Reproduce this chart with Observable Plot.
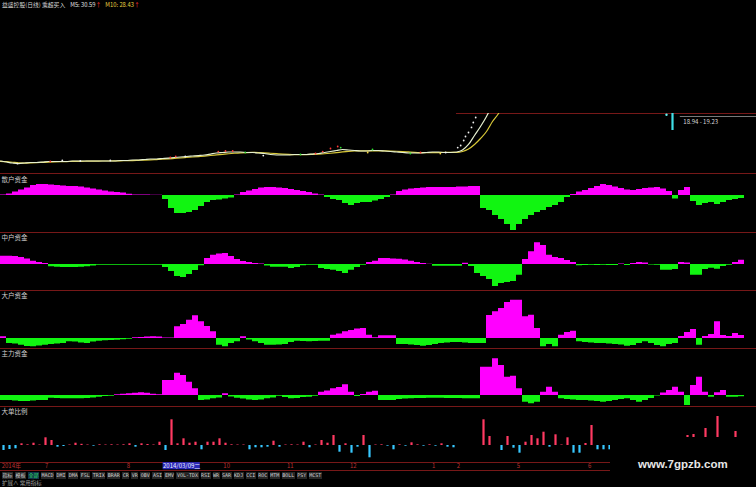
<!DOCTYPE html>
<html><head><meta charset="utf-8">
<script src="https://cdn.jsdelivr.net/npm/d3@7"></script>
<script src="https://cdn.jsdelivr.net/npm/@observablehq/plot@0.6"></script>
<style>
html,body{margin:0;padding:0;background:#000;}
#root{position:relative;width:756px;height:487px;overflow:hidden;background:#000;font-family:"Noto Sans CJK SC","DejaVu Sans",sans-serif;}
#root svg{position:absolute;left:0;background:transparent;}
.title{position:absolute;left:2px;top:0px;font-size:5.8px;line-height:10px;color:#d8d8d8;white-space:nowrap;}
.tabs{position:absolute;left:2px;top:472px;display:flex;gap:2px;font-family:"DejaVu Sans Mono","Noto Sans CJK SC",monospace;font-size:5px;line-height:7px;color:#d0d0d0;white-space:nowrap;}
.tabs span{background:#262626;padding:0 0.5px;}
.tabs span.on{color:#30e060;background:#10304a;}
.ext{position:absolute;left:2px;top:481px;font-size:5.5px;line-height:7px;color:#a0a0a0;white-space:nowrap;}
.wm{position:absolute;left:610px;top:437px;width:146px;height:50px;background:#000;}
.wm div{position:absolute;left:28px;top:21px;font-family:"Liberation Sans",Arial,sans-serif;font-weight:bold;font-size:11.5px;color:#e6e6e6;}
</style></head><body><div id="root"></div>
<script>
// ---------- data ----------
const titleName = "益盛控股(日线) 乘超买入";
const m5Label = "M5: 30.59", m10Label = "M10: 28.43";
const panelLabels = ["散户资金", "中户资金", "大户资金", "主力资金", "大单比例"];

// main panel: moving averages (price), by bar index
const ma5 = [10.28,10.09,9.91,9.81,9.91,10.00,10.00,10.09,10.19,10.19,
  10.19,10.19,10.28,10.28,10.28,10.28,10.28,10.28,10.28,10.28,
  10.38,10.38,10.47,10.47,10.56,10.66,10.66,10.75,10.84,10.94,
  11.03,11.13,11.22,11.31,11.41,11.59,11.78,11.88,11.97,11.97,
  11.97,11.88,11.88,11.78,11.69,11.50,11.41,11.41,11.41,11.50,
  11.50,11.50,11.59,11.69,11.88,12.06,12.25,12.44,12.35,12.25,
  12.16,12.16,12.25,12.25,12.16,12.06,11.97,11.88,11.78,11.78,
  11.78,11.88,11.97,11.97,11.88,11.88,11.97,12.35,13.38,15.07,
  16.75,18.63,20.88,23.13];
const ma10 = [10.2,10.15,10.05,9.95,9.9,9.92,9.96,10.02,10.08,10.13,
  10.16,10.18,10.2,10.22,10.24,10.26,10.27,10.28,10.28,10.29,
  10.32,10.34,10.37,10.41,10.45,10.5,10.56,10.62,10.69,10.77,
  10.85,10.94,11.03,11.12,11.21,11.31,11.42,11.53,11.64,11.74,
  11.82,11.87,11.89,11.87,11.82,11.74,11.66,11.58,11.52,11.48,
  11.47,11.48,11.52,11.57,11.64,11.74,11.86,11.99,12.1,12.17,
  12.2,12.2,12.19,12.18,12.17,12.15,12.11,12.05,11.98,11.91,
  11.86,11.84,11.85,11.87,11.89,11.9,11.88,12.06,12.53,13.38,
  14.50,15.82,17.69,19.19,21.26];
// small candle marks
const candleIdx   = [2.8,8.3,10.3,13.3,18.3,28.3,29.2,30.8,36.3,37.5,38.7,40.8,43.8,50,52.5,53.7,55,56.2,56.7,61.2,62,68.3,70,73.3,74.2,76.2,76.7,77.2,77.5,78,78.5,78.8,79.2];
const candlePrice = [9.81,10.19,10.38,10.28,10.38,10.94,11.13,11.13,12.06,12.16,12.16,11.88,11.31,11.5,11.69,12.06,12.63,13.0,12.81,11.88,12.44,11.69,11.88,11.69,11.88,12.81,13.19,14.13,14.88,15.63,16.57,17.5,18.44];
const candleKind  = ["w","r","w","w","w","r","r","w","r","r","r","g","w","g","r","r","r","r","g","y","g","g","r","y","w","w","w","w","w","w","w","w","w"];
// floating price marker
const markerIdx = 112, markerLow = 16.0, markerHigh = 19.19, markerText = "18.94 - 19.23", markerTextPrice = 17.5, markerLinePrice = 18.63;

// fund flow panels (one value per bar)
const retail = [0.5,1.5,3.5,5.5,7.5,10,11,11,10.5,10,
  9.5,9,9,8.5,7.5,6.5,5.5,4.5,3.5,3,
  2.5,1.2,0.6,0.5,0.4,0.3,0.3,-4,-13,-18,
  -18,-17,-15,-11,-7,-5,-4.5,-3.5,-2.5,0.5,
  3,4.5,6,7.5,8,8,7.5,7,6,5,
  4,3,1.5,0.5,-2,-4,-5,-8,-10,-8,
  -7,-7,-5.5,-4,-2,0.5,4,5.5,6.5,7,
  7.5,8,8,8,8,8,8.5,8.5,9,9,
  -13,-15,-20,-24,-29,-35,-29,-24,-20,-17,
  -15,-12,-10,-7,-2,1,3.5,5,7,9,
  11,10,8.5,7,5.5,5,6,7,7.5,8,
  6.5,4,-3.5,5,8,-6,-10,-8,-7,-9,
  -7,-5,-4,-3,-7];
const mid = [8.3,8.3,8,7,5.5,3.3,2,1,-2.3,-2.7,
  -3,-3,-3,-2.7,-2.3,-1.5,-0.8,-0.7,-0.7,-0.7,
  -0.7,-0.7,-0.7,-0.7,-0.7,-0.7,-0.7,-3,-7,-12,
  -13,-10,-6,-1.3,6,9.3,10.5,11,8,5,
  3,2,1,0.5,-1.5,-2.7,-2.7,-2.7,-4,-3,
  -1.3,-0.7,-0.7,-4,-5,-5.7,-7,-9,-5.7,-3,
  -0.7,2,3.3,6,6,5.5,5.3,4.5,3.3,2,
  1,0.3,-1.7,-1.7,-1.7,-1.7,-1.7,1.3,-2,-9,
  -12,-15,-22,-19,-18,-17,-10.7,5,12.7,21.7,
  19,9.3,7,6,4,2,-1.3,-1,-0.7,-1,
  -0.7,-1,-1,0.5,-1,1,2,1.5,-0.5,-0.7,
  -5.7,-5.7,-5,2,1.5,-10.7,-10.7,-5,-3.7,-4.7,
  -2,-0.7,2,4.3,6.7];
const big = [1.7,-5,-5.5,-6.7,-8,-8.3,-7.5,-6.7,-6,-5.5,
  -5,-3.3,-3.5,-4.5,-5,-3.5,-2.7,-2.2,-2,-1.7,
  -1.2,-0.7,0.7,1,1.5,1.7,1.5,0.5,0.5,11.7,
  14,18.3,22.7,16.7,12,6.7,-6.7,-8.3,-5,-3.3,
  1.7,-1.5,-3.3,-5,-6.7,-6.7,-6.5,-6,-4,-2.7,
  -3,-3.3,-3,-2.7,-2.7,3.3,4.5,6.7,8,9.5,
  10,3.3,0.7,2.7,2.7,2.7,-6,-6,-6.5,-7,
  -7.7,-7,-6,-5,-4.5,-4,-4,-4.5,-5,-5,
  -5,23,26.7,30,36,38.3,38.3,21.7,23.3,10,
  -8.3,-6,-8.3,3.3,6,7.3,-3.3,-4,-4.5,-5,
  -5,-5.5,-6,-6.5,-7.7,-7,-5,-3.3,-5,-7,
  -8.3,-6,-5,2,6,9,-6.7,2,4,16.7,
  3,2,5,3,2.3];
const mainForce = [-5,-5,-5.5,-6,-6,-5.5,-5,-5,-2.7,-3,
  -3.3,-3.3,-3.3,-3.3,-3,-2.5,-1.7,-1,-0.7,0.7,
  1.2,1.7,2.2,2.7,2.2,1.2,0.7,15,15,22.3,
  20,13.3,6.7,-5,-4.5,-3.3,-2.5,1.7,-1.5,-2.7,
  -3.5,-4.5,-5,-4.5,-3.3,-2.5,-0.7,-2,-3.3,-3,
  -2,-1.7,-0.7,3.3,4.5,6.7,8,10.7,3.3,-1,
  1,3.3,4.3,-5,-5,-5,-4,-3.5,-3.3,-3,
  -3,-2.7,-2.7,-2.7,-3,-3,-3,-3.3,-3.3,-3.3,
  28.3,28.3,36.7,30,18.3,19.3,6.7,-6.7,-8.3,-6.7,
  3.3,8.3,3.3,-3.3,-4,-4.5,-5,-5,-5.5,-6,
  -6.7,-6,-5,-4,-3.3,-5,-6.7,-5,-3,-0.5,
  2.5,5,8.3,3.3,-10,10,18.3,3.3,-1.7,2.7,
  5,-1.7,-1.7,-1.2,-1];
const bigOrderRatio = [-5,-4,-3.3,1.7,0.7,2.3,0.5,7.7,5,-1.7,
  -1,0.5,2.3,1.2,0.5,-0.7,0.7,0.5,0.7,0.5,
  0.7,1.7,-1.7,1.7,1,0.5,3.3,-5,25.7,1.7,
  6.7,2.3,3.3,-4.3,3.3,3.3,6.7,2.3,0.7,0.5,
  0.5,-4.3,-2.3,-2.3,-1.7,4.3,-1.7,0.5,0.7,0.5,
  3.3,-2.3,0.5,5,2.3,10,-6.7,1.7,-7.7,-1.7,
  10,-12.3,0.5,0.7,-0.7,-4.3,0.7,-0.7,2.7,0.7,
  -0.7,0.7,-0.7,1.7,-1.7,-2.3,null,null,null,null,
  25.7,9,null,-5,9,-2.7,-7.7,3.3,10,6.7,
  13.3,-1.7,10.7,0.5,7.7,-7.7,-7.7,2,20,-4.3,
  -4.3,-4.3,null,null,null,null,null,null,null,8,
  null,null,null,null,10,11,null,17,null,29,
  null,null,14,null,null];

// time axis
const yearLabel = "2014年";
const monthLabels = ["7","8","10","11","12","1","2","5","6"];
const monthIdx = [7.7,21.3,37.7,48.3,58.8,72.2,76.3,86.3,98.2];
const cursorIdx = 30.2, cursorLabel = "2014/03/09二";
const tabLabels = ["指标","模板","全部","MACD","DMI","DMA","FSL","TRIX","BRAR","CR","VR","OBV","ASI","EMV","VOL-TDX","RSI","WR","SAR","KDJ","CCI","ROC","MTM","BOLL","PSY","MCST"];
const extLabel = "扩展∧ 常用指标";
const watermark = "www.7gpzb.com";

// ---------- rendering ----------
const W = 756, N = 126;
const SEP = "#761818", MAG = "#ff00ff", GRN = "#11f511";
const root = document.getElementById("root");
function put(el, top) { el.style.top = top + "px"; root.appendChild(el); }
const baseStyle = {background: "transparent", fontFamily: "Noto Sans CJK SC, DejaVu Sans, sans-serif"};

// title
const t = document.createElement("div");
t.className = "title";
t.innerHTML = `<span>${titleName}</span><span style="margin-left:5px;color:#e0e0e0">${m5Label}</span><span style="color:#ff3030">↑</span><span style="margin-left:4px;color:#e8d040">${m10Label}</span><span style="color:#ff3030">↑</span>`;

// price panel
const pLo = 7.94, pHi = 19.19;
const ma5Rows = ma5.map((p, i) => ({i, p}));
const ma10Rows = ma10.map((p, i) => ({i, p}));
const candles = candleIdx.map((i, k) => ({i, p: candlePrice[k], k: candleKind[k]}));
const kindColor = {w: "#f0f0f0", r: "#ff3838", g: "#30e030", y: "#f0d040"};
const pricePlot = Plot.plot({
  width: W, height: 175, marginTop: 113, marginBottom: 2, marginLeft: 0, marginRight: 0,
  x: {domain: [0, N], axis: null}, y: {domain: [pLo, pHi], axis: null},
  style: baseStyle,
  marks: [
    Plot.ruleY([pHi], {x1: 76, x2: N, stroke: SEP}),
    Plot.ruleY([markerLinePrice], {x1: markerIdx + 1.3, x2: N, stroke: "#9a9a9a", strokeWidth: 0.8}),
    Plot.lineY(ma10Rows, {x: "i", y: "p", stroke: "#d8c838", strokeWidth: 1.2, curve: "monotone-x", clip: true}),
    Plot.lineY(ma5Rows, {x: "i", y: "p", stroke: "#e6f0d0", strokeWidth: 1.2, curve: "monotone-x", clip: true}),
    Plot.dot(candles, {x: "i", y: "p", r: 0.9, fill: d => kindColor[d.k], stroke: null, clip: true}),
    Plot.ruleX([markerIdx], {y1: markerLow, y2: markerHigh, stroke: "#40e0e8", strokeWidth: 2.2}),
    Plot.dot([markerIdx - 1], {x: d => d, y: 18.95, r: 1.2, fill: "#60f0f0"}),
    Plot.text([markerText], {x: markerIdx + 1.8, y: markerTextPrice, text: d => d, textAnchor: "start", fill: "#d8d8d8", fontSize: 6}),
    Plot.ruleY([pLo], {stroke: SEP})
  ]
});

// fund panels
function fundPanel(values, label, height, domain) {
  const rows = values.map((v, i) => ({i, v}));
  return Plot.plot({
    width: W, height, marginTop: 0, marginBottom: 1, marginLeft: 0, marginRight: 0,
    x: {domain: [0, N], axis: null}, y: {domain, axis: null},
    style: baseStyle,
    marks: [
      Plot.areaY(rows, {x: "i", y: d => Math.max(d.v, 0), curve: "step-after", fill: MAG}),
      Plot.areaY(rows, {x: "i", y: d => Math.min(d.v, 0), curve: "step-after", fill: GRN}),
      Plot.ruleY([domain[0]], {stroke: SEP}),
      Plot.text([label], {frameAnchor: "top-left", dx: 1, dy: 1.5, fill: "#cfcfcf", fontSize: 6.5})
    ]
  });
}
const p2 = fundPanel(retail, panelLabels[0], 58, [-37, 20]);
const p3 = fundPanel(mid, panelLabels[1], 58, [-26, 31]);
const p4 = fundPanel(big, panelLabels[2], 58, [-10, 47]);
const p5 = fundPanel(mainForce, panelLabels[3], 58, [-11, 46]);

// big order ratio bars
const barRows = bigOrderRatio.map((v, i) => ({i, v})).filter(d => d.v !== null);
const p6 = Plot.plot({
  width: W, height: 56, marginTop: 0, marginBottom: 1, marginLeft: 0, marginRight: 0,
  x: {domain: [0, N], axis: null}, y: {domain: [-17, 38], axis: null},
  style: baseStyle,
  marks: [
    Plot.ruleX(barRows, {x: d => d.i + 0.5, y1: 0, y2: "v", stroke: d => d.v >= 0 ? "#ff3a62" : "#38c8ff", strokeWidth: 2.2}),
    Plot.ruleY([-17], {stroke: SEP}),
    Plot.text([panelLabels[4]], {frameAnchor: "top-left", dx: 1, dy: 1.5, fill: "#cfcfcf", fontSize: 6.5})
  ]
});

// time axis
const months = monthLabels.map((m, k) => ({m, i: monthIdx[k]}));
const axisPlot = Plot.plot({
  width: W, height: 10, margin: 0, marginBottom: 1,
  x: {domain: [0, N], axis: null}, y: {domain: [0, 1], axis: null},
  style: baseStyle,
  marks: [
    Plot.rect([cursorIdx], {x1: d => d - 3.1, x2: d => d + 3.1, y1: 0.08, y2: 0.88, fill: "#2828b8"}),
    Plot.text([cursorLabel], {x: cursorIdx, y: 0.48, text: d => d, fill: "#f0f0ff", fontSize: 6}),
    Plot.text([yearLabel], {x: 0.2, y: 0.5, text: d => d, textAnchor: "start", fill: "#b83030", fontSize: 6}),
    Plot.text(months, {x: "i", y: 0.5, text: "m", fill: "#b83030", fontSize: 6}),
    Plot.ruleY([0], {stroke: SEP})
  ]
});

// tabs
const tabs = document.createElement("div");
tabs.className = "tabs";
tabs.innerHTML = tabLabels.map(s => `<span class="${s === "全部" ? "on" : ""}">${s}</span>`).join("");
const ext = document.createElement("div");
ext.className = "ext";
ext.textContent = extLabel;

// watermark box
const wm = document.createElement("div");
wm.className = "wm";
wm.innerHTML = `<div>${watermark}</div>`;

put(pricePlot, 0);
put(t, 0);
put(p2, 175);
put(p3, 233);
put(p4, 291);
put(p5, 349);
put(p6, 407);
put(axisPlot, 461);
put(tabs, 472);
put(ext, 480);
put(wm, 437);
</script>
</body></html>
